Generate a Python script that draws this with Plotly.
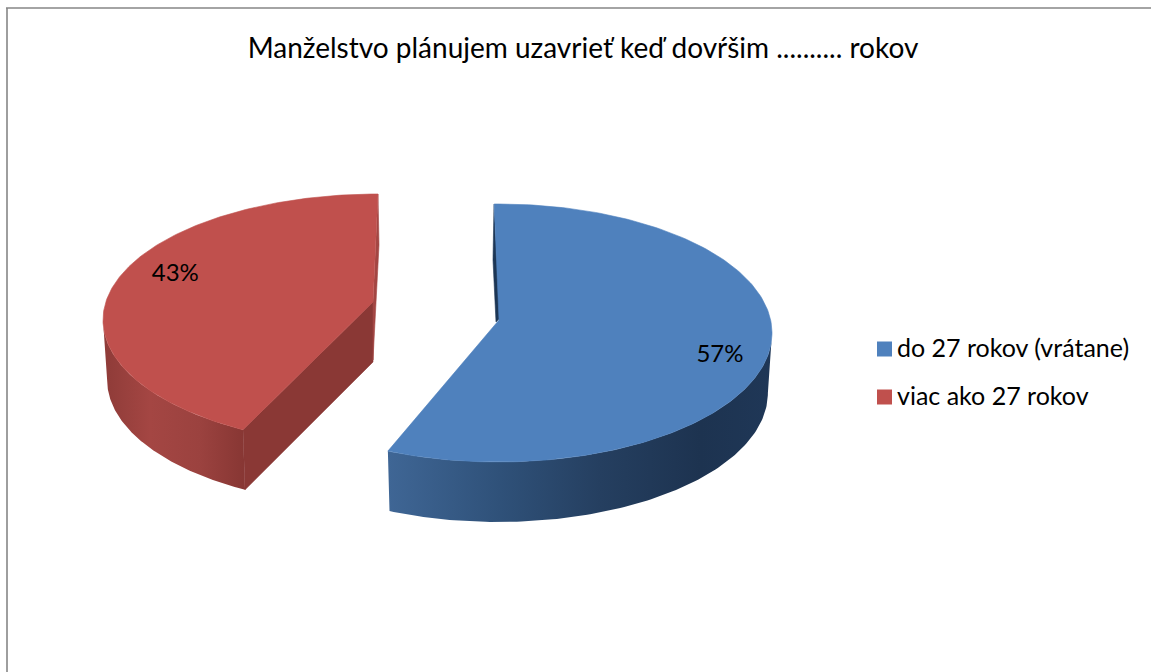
import numpy as np
import plotly.graph_objects as go

# ---- data ----
categories = ["do 27 rokov (vrátane)", "viac ako 27 rokov"]
shares = [57, 43]
chart_title = "Manželstvo plánujem uzavrieť keď dovŕšim .......... rokov"

# ---- style ----
TOP = ["#4f81bd", "#c0504d"]
FACE = ["#1c3655", "#8a3835"]
FONT = "Lato, 'Open Sans', sans-serif"
W, H = 1151, 672
DEPTH = 60

# projected geometry of each exploded slice (pixel-like axis units)
GEO = [
    dict(cx=498, cy=333, rx=274, ry=129, apex=(499, 320), start=-0.8, end=-1.5),
    dict(cx=378, cy=320, rx=275, ry=126, apex=(373, 302), start=4.2, end=0.0),
]
SIDE_RAMP = [
    ([388, 500, 600, 700, 772], ["#3f6695", "#2f5179", "#253f60", "#1d3350", "#1f3757"]),
    ([103, 150, 200, 243], ["#8e3b38", "#a44643", "#9b423f", "#883734"]),
]


def rim(g, theta):
    t = np.radians(theta)
    return g["cx"] + g["rx"] * np.sin(t), g["cy"] - g["ry"] * np.cos(t)


def lower(g, x, y):
    return g["cx"] + 0.985 * (x - g["cx"]), y + DEPTH


fig = go.Figure()


def poly(xs, ys, color):
    fig.add_trace(go.Scatter(x=list(xs), y=list(ys), mode="lines", fill="toself",
                             fillcolor=color, line=dict(color=color, width=0.6),
                             hoverinfo="skip", showlegend=False))


def wall(g, a0, a1, xs, cols):
    th = np.linspace(a0, a1, 120)
    x, y = rim(g, th)
    xb, yb = lower(g, x, y)
    lo, hi = xs[0], xs[-1]
    scale = [[(v - lo) / (hi - lo), c] for v, c in zip(xs, cols)]
    fig.add_trace(go.Scatter(
        x=np.r_[x, xb[::-1], x[0]], y=np.r_[y, yb[::-1], y[0]],
        mode="lines", line=dict(width=0, color=cols[0]), fill="toself",
        fillgradient=dict(type="horizontal", colorscale=scale, start=lo, stop=hi),
        hoverinfo="skip", showlegend=False))


# angular spans come from the shares
total = sum(shares)
boundary = 360.0 * shares[0] / total
spans = [(GEO[0]["start"], boundary + GEO[0]["end"]),
         (boundary + GEO[1]["start"], 360.0 + GEO[1]["end"])]

# blue: inner sliver, outer wall, top
b = GEO[0]
poly([494, 493, 496, 500], [204, 260, 322, 318], FACE[0])
wall(b, 90, spans[0][1], *SIDE_RAMP[0])
th = np.linspace(*spans[0], 200)
x, y = rim(b, th)
poly(np.r_[b["apex"][0], x, b["apex"][0]], np.r_[b["apex"][1], y, b["apex"][1]], TOP[0])

# red: outer wall, cut face, sliver, top
r = GEO[1]
x_end, y_end = rim(r, spans[1][0])
xb, yb = lower(r, x_end, y_end)
wall(r, spans[1][0], 270, *SIDE_RAMP[1])
ax, ay = r["apex"]
poly([x_end, ax, ax, xb, x_end], [y_end, ay, ay + DEPTH, yb, y_end], FACE[1])
poly([378, 379, 373, 373], [194, 245, 360, 302], "#a34643")
th = np.linspace(*spans[1], 200)
x, y = rim(r, th)
poly(np.r_[ax, x, ax], np.r_[ay, y, ay], TOP[1])

# data labels
label_angle = [102.6, 296.0]
label_frac = [0.83, 0.82]
for i, g in enumerate(GEO):
    t = np.radians(label_angle[i])
    fig.add_trace(go.Scatter(
        x=[g["cx"] + label_frac[i] * g["rx"] * np.sin(t)],
        y=[g["cy"] - label_frac[i] * g["ry"] * np.cos(t)],
        mode="text", text=[f"{shares[i]}%"], textposition="middle center",
        textfont=dict(family=FONT, size=24, color="#000000"),
        hoverinfo="skip", showlegend=False))

# legend rows
legend_x = 884.5
legend_text_x = 897
legend_y = [349, 397]
for i, c in enumerate(categories):
    fig.add_trace(go.Scatter(
        x=[legend_x], y=[legend_y[i]], mode="markers", name=c,
        marker=dict(symbol="square", size=15, color=TOP[i]),
        hoverinfo="skip", showlegend=False))
    fig.add_trace(go.Scatter(
        x=[legend_text_x], y=[legend_y[i] + 2], mode="text", name=c,
        text=[c], textposition="middle right",
        textfont=dict(family=FONT, size=25, color="#000000"),
        hoverinfo="skip", showlegend=False))

fig.update_layout(
    width=W, height=H, margin=dict(l=0, r=0, t=0, b=0),
    paper_bgcolor="#ffffff", plot_bgcolor="#ffffff",
    title=dict(text=chart_title, x=583 / W, xanchor="center", y=1 - 48 / H, yanchor="middle",
               font=dict(family=FONT, size=28, color="#000000")),
    xaxis=dict(range=[0, W], visible=False, fixedrange=True),
    yaxis=dict(range=[H, 0], visible=False, fixedrange=True),
    showlegend=False,
    shapes=[dict(type="line", xref="x", yref="y", x0=7, y0=H, x1=7, y1=8,
                 line=dict(color="#868686", width=1.6)),
            dict(type="line", xref="x", yref="y", x0=6, y0=8, x1=W, y1=8,
                 line=dict(color="#868686", width=1.6))],
)
fig.write_html("out.html", config=dict(displayModeBar=False),
               post_script="document.body.style.margin='0';document.body.style.overflow='hidden';")
